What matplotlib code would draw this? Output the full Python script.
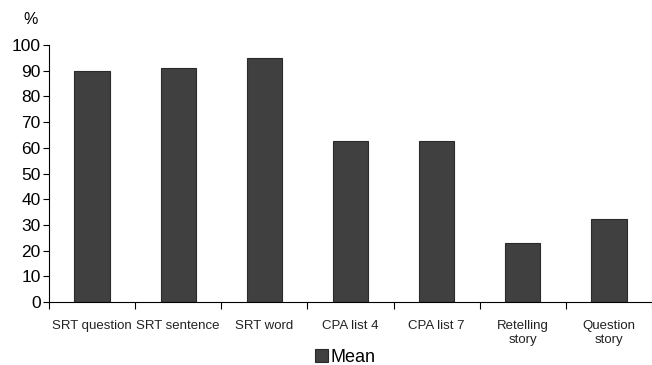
import numpy as np
import matplotlib
matplotlib.use('Agg')
import matplotlib.pyplot as plt

categories = ['SRT question', 'SRT sentence', 'SRT word', 'CPA list 4',
              'CPA list 7', 'Retelling\nstory', 'Question\nstory']
mean_values = [90, 91, 95, 62.5, 62.5, 22.8, 32.4]
y_ticks = list(range(0, 101, 10))

plt.rcParams['font.family'] = ['Liberation Sans', 'DejaVu Sans']

fig = plt.figure(figsize=(6.52, 3.65), dpi=100)
ax = fig.add_axes([49/652, 1-302/365, 1-49/652, (302-45)/365])

x = np.arange(len(categories))
ax.bar(x, mean_values, width=0.41, color='#404040', edgecolor='#2a2a2a',
       linewidth=0.8, label='Mean', zorder=2)

ax.set_ylim(0, 100)
ax.set_xlim(-0.5, 6.35)
ax.set_yticks(y_ticks)
ax.tick_params(axis='y', labelsize=12.5, direction='out', length=4, width=0.8, pad=2)

# ticks between categories, labels at centres
ax.set_xticks(np.arange(-0.5, 7, 1))
ax.set_xticklabels([])
ax.tick_params(axis='x', which='major', direction='out', length=5, width=0.8)
ax.set_xticks(x, minor=True)
ax.set_xticklabels(categories, minor=True, fontsize=9.5, color='#222222')
ax.tick_params(axis='x', which='minor', length=0, pad=13)

for s in ['top', 'right']:
    ax.spines[s].set_visible(False)
for s in ['left', 'bottom']:
    ax.spines[s].set_linewidth(0.8)

fig.text(31/652, 1-19/365, '%', fontsize=11.5, ha='center', va='center')

fig.legend(loc='center', bbox_to_anchor=(345/652, 1-357/365), frameon=False,
           fontsize=13, handlelength=0.75, handleheight=0.75, handletextpad=0.1,
           borderaxespad=0, borderpad=0)

fig.savefig('out.png', dpi=100)
